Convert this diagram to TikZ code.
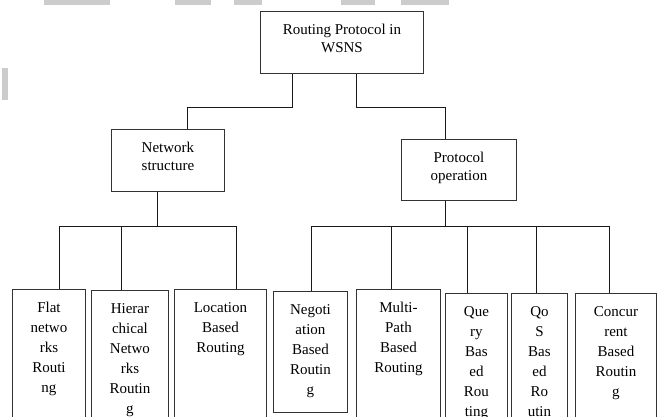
\documentclass[tikz,border=0pt]{standalone}
\usepackage{fontspec}
\setmainfont{Liberation Serif}
\newcommand\boxtext[3]{\begin{minipage}[t][#1][t]{#2}\centering\leavevmode\rule{0pt}{23pt}#3\end{minipage}}
\tikzset{
  box/.style={draw=black!80, line width=0.9pt, inner sep=0pt, anchor=north west},
  upper/.style={box, font=\fontsize{15}{18.5}\selectfont},
  leaf/.style={box, font=\fontsize{15}{20}\selectfont},
  conn/.style={draw=black!90, line width=0.8pt},
  smear/.style={fill=black!20, draw=none}
}
\begin{document}
\begin{tikzpicture}[x=1pt,y=-1pt]
\useasboundingbox (0,0) rectangle (660,416);
\clip (0,0) rectangle (660,416);
\fill[white] (0,0) rectangle (660,416);
% faint scan smears
\fill[smear] (44,0) rectangle (110,5);
\fill[smear] (175,0) rectangle (211,5);
\fill[smear] (234,0) rectangle (262,5);
\fill[smear] (341,0) rectangle (375,5);
\fill[smear] (401,0) rectangle (449,5);
\fill[smear] (2,68) rectangle (8,100);

% upper boxes
\node[upper] (root) at (260,11) {\boxtext{62pt}{163pt}{Routing Protocol in\\WSNS}};
\node[upper] (ns) at (111,129) {\boxtext{62pt}{113pt}{Network\\structure}};
\node[upper] (po) at (401,139) {\boxtext{61pt}{115pt}{Protocol\\operation}};

% leaves
\node[leaf] (l1) at (12,289) {\boxtext{140pt}{73pt}{Flat\\netwo\\rks\\Routi\\ng}};
\node[leaf] (l2) at (91,290) {\boxtext{140pt}{77pt}{Hierar\\chical\\Netwo\\rks\\Routin\\g}};
\node[leaf] (l3) at (174,289) {\boxtext{140pt}{92pt}{Location\\Based\\Routing}};
\node[leaf] (l4) at (273,291) {\boxtext{121pt}{74pt}{Negoti\\ation\\Based\\Routin\\g}};
\node[leaf] (l5) at (356,289) {\boxtext{140pt}{84pt}{Multi-\\Path\\Based\\Routing}};
\node[leaf] (l6) at (445,293) {\boxtext{140pt}{62pt}{Que\\ry\\Bas\\ed\\Rou\\ting}};
\node[leaf] (l7) at (511,293) {\boxtext{140pt}{56pt}{Qo\\S\\Bas\\ed\\Ro\\utin}};
\node[leaf] (l8) at (575,293) {\boxtext{140pt}{81pt}{Concur\\rent\\Based\\Routin\\g}};

% connector points
\coordinate (r1) at (292,107);
\coordinate (r2) at (187,107);
\coordinate (r3) at (356,107);
\coordinate (r4) at (445,107);
\coordinate (n0) at (157,226);
\coordinate (nb1) at (59,226);
\coordinate (nb2) at (121,226);
\coordinate (nb3) at (236,226);
\coordinate (p0) at (445,226);
\coordinate (pb1) at (311,226);
\coordinate (pb2) at (391,226);
\coordinate (pb3) at (467,226);
\coordinate (pb4) at (536,226);
\coordinate (pb5) at (609,226);

\draw[conn] (root.south -| r1) -- (r1) -- (r2) -- (r2 |- ns.north);
\draw[conn] (root.south -| r3) -- (r3) -- (r4) -- (r4 |- po.north);

\draw[conn] (ns.south -| n0) -- (n0);
\draw[conn] (nb1) -- (nb3);
\draw[conn] (nb1) -- (nb1 |- l1.north);
\draw[conn] (nb2) -- (nb2 |- l2.north);
\draw[conn] (nb3) -- (nb3 |- l3.north);

\draw[conn] (po.south -| p0) -- (p0);
\draw[conn] (pb1) -- (pb5);
\draw[conn] (pb1) -- (pb1 |- l4.north);
\draw[conn] (pb2) -- (pb2 |- l5.north);
\draw[conn] (pb3) -- (pb3 |- l6.north);
\draw[conn] (pb4) -- (pb4 |- l7.north);
\draw[conn] (pb5) -- (pb5 |- l8.north);
\end{tikzpicture}
\end{document}
